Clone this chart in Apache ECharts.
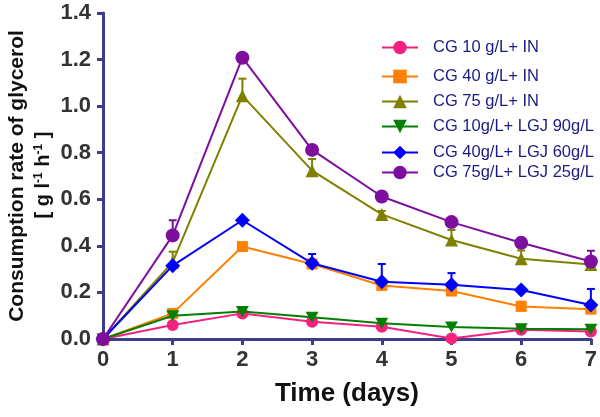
<!DOCTYPE html>
<html><head><meta charset="utf-8">
<script src="https://cdn.jsdelivr.net/npm/echarts@6/dist/echarts.min.js"></script>
<style>html,body{margin:0;padding:0;background:#fff}#c{width:600px;height:417px}</style>
</head><body><div id="c"></div>
<script>
const days = [0, 1, 2, 3, 4, 5, 6, 7];
const yTicks = [0, 0.2, 0.4, 0.6, 0.8, 1.0, 1.2, 1.4];
const names = ['CG 10 g/L+ IN', 'CG 40 g/L+ IN', 'CG 75 g/L+ IN', 'CG 10g/L+ LGJ 90g/L', 'CG 40g/L+ LGJ 60g/L', 'CG 75g/L+ LGJ 25g/L'];
const cg10IN = [0, 0.06, 0.11, 0.074, 0.053, 0.002, 0.04, 0.032];
const cg40IN = [0, 0.11, 0.397, 0.322, 0.23, 0.206, 0.14, 0.128];
const cg75IN = [0, 0.33, 1.045, 0.723, 0.535, 0.425, 0.345, 0.32];
const cg10LGJ = [0, 0.1, 0.118, 0.093, 0.068, 0.052, 0.044, 0.042];
const cg40LGJ = [0, 0.315, 0.51, 0.325, 0.246, 0.233, 0.21, 0.146];
const cg75LGJ = [0, 0.445, 1.208, 0.812, 0.612, 0.502, 0.413, 0.333];
// upper error bar tops (null = none visible)
const cg10INErr = [null, null, null, null, null, null, null, null];
const cg40INErr = [null, 0.12, 0.41, 0.335, 0.245, 0.215, 0.16, 0.135];
const cg75INErr = [null, 0.375, 1.118, 0.773, 0.55, 0.468, 0.38, 0.33];
const cg10LGJErr = [null, null, 0.13, null, null, null, null, null];
const cg40LGJErr = [null, null, null, 0.365, 0.322, 0.283, null, 0.215];
const cg75LGJErr = [null, 0.51, null, null, null, null, null, 0.379];

const colors = ['#f5217f', '#ff8000', '#808000', '#008000', '#0000ff', '#7d0e9e'];
const symbols = ['circle', 'rect', 'triangle', 'path://M0,0 L10,0 L5,9 Z', 'diamond', 'circle'];
const sizes = [12, 11, 13, [13, 11], 15, 14];
const values = [cg10IN, cg40IN, cg75IN, cg10LGJ, cg40LGJ, cg75LGJ];
const errs = [cg10INErr, cg40INErr, cg75INErr, cg10LGJErr, cg40LGJErr, cg75LGJErr];
const axisColor = '#3b3e8a';
const legendTops = [34, 63, 88, 113, 139, 159];

const series = [];
values.forEach((vals, i) => {
  const ed = [];
  days.forEach((d, k) => { if (errs[i][k] != null) ed.push([d, vals[k], errs[i][k]]); });
  series.push({
    type: 'custom', name: names[i] + '_err', silent: true, z: 2 + i,
    data: ed,
    renderItem: function (params, api) {
      const p0 = api.coord([api.value(0), api.value(1)]);
      const p1 = api.coord([api.value(0), api.value(2)]);
      const st = { stroke: colors[i], lineWidth: 2 };
      return { type: 'group', children: [
        { type: 'line', shape: { x1: p0[0], y1: p0[1], x2: p1[0], y2: p1[1] }, style: st },
        { type: 'line', shape: { x1: p1[0] - 4, y1: p1[1], x2: p1[0] + 4, y2: p1[1] }, style: st }
      ]};
    }
  });
  series.push({
    type: 'line', name: names[i], z: 3 + i,
    data: days.map((d, k) => [d, vals[k]]),
    symbol: symbols[i], symbolSize: sizes[i], showSymbol: true,
    lineStyle: { color: colors[i], width: 2 },
    itemStyle: { color: colors[i] },
    animation: false
  });
});

const legends = names.map((n, i) => ({
  data: [n], left: 376, top: legendTops[i],
  itemWidth: 36, itemHeight: 17, itemGap: 0,
  textStyle: { color: '#1a1a80', fontSize: 16.5, fontFamily: 'Liberation Sans', padding: [0, 0, 0, 10] },
  selectedMode: false
}));

const chart = echarts.init(document.getElementById('c'), null, { renderer: 'canvas' });
chart.setOption({
  animation: false,
  color: colors,
  legend: legends,
  grid: { left: 103, right: 8, top: 13, bottom: 78, containLabel: false },
  xAxis: {
    type: 'value', min: 0, max: 7, interval: 1,
    axisLine: { lineStyle: { color: axisColor, width: 3 } },
    axisTick: { show: true, length: 6, lineStyle: { color: axisColor, width: 3 } },
    splitLine: { show: false },
    axisLabel: { color: '#333', fontSize: 22, fontWeight: 'bold', fontFamily: 'Liberation Sans', margin: 10 },
    name: 'Time (days)', nameLocation: 'middle', nameGap: 42,
    nameTextStyle: { color: '#111', fontSize: 26, fontWeight: 'bold', fontFamily: 'Liberation Sans' }
  },
  yAxis: {
    type: 'value', min: 0, max: 1.4, interval: 0.2,
    axisLine: { show: true, lineStyle: { color: axisColor, width: 3 } },
    axisTick: { show: true, length: 6, lineStyle: { color: axisColor, width: 3 } },
    splitLine: { show: false },
    axisLabel: { color: '#333', fontSize: 22, fontWeight: 'bold', fontFamily: 'Liberation Sans', margin: 12,
      formatter: v => { const t = yTicks.find(x => Math.abs(x - v) < 1e-6); return (t != null ? t : v).toFixed(1); } }
  },
  graphic: [{
    type: 'text', x: 17, y: 176, rotation: Math.PI / 2,
    style: { text: 'Consumption rate of glycerol', fill: '#111', font: 'bold 21px "Liberation Sans"', align: 'center', verticalAlign: 'middle' }
  }, {
    type: 'text', x: 43, y: 175, rotation: Math.PI / 2,
    style: {
      text: '{a|[ g l}{s|-1}{a| h}{s|-1}{a| ]}', align: 'center', verticalAlign: 'middle',
      rich: {
        a: { fill: '#111', font: 'bold 20px "Liberation Sans"', verticalAlign: 'bottom' },
        s: { fill: '#111', font: 'bold 12px "Liberation Sans"', verticalAlign: 'top', padding: [0, 0, 9, 0] }
      }
    }
  }],
  series: series
});
</script></body></html>
